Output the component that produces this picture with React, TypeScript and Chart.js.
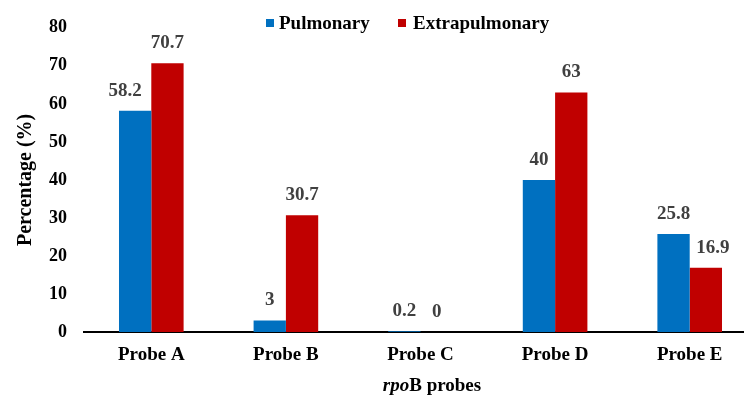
import React, { useEffect, useRef } from "react";
import { Chart, registerables } from "chart.js";

Chart.register(...registerables);

const categories = ["Probe A", "Probe B", "Probe C", "Probe D", "Probe E"];
const pulmonary = [58.2, 3, 0.2, 40, 25.8];
const extrapulmonary = [70.7, 30.7, 0, 63, 16.9];
const seriesNames = ["Pulmonary", "Extrapulmonary"];
const yTicksMax = 80;
const yTicksStep = 10;

const BLUE = "#0070C0";
const RED = "#C00000";
const SERIF = "'Liberation Serif', 'Times New Roman', serif";

// small horizontal nudges of data labels (dataset index -> per-point px)
const labelNudge = [
  [-10, 0, 0, 0, 0],
  [0, 0, 0, 0, 7],
];

const overlayPlugin = {
  id: "overlay",
  afterDatasetsDraw(chart: any) {
    const ctx = chart.ctx;
    ctx.save();
    // data labels
    ctx.font = `bold 19px ${SERIF}`;
    ctx.fillStyle = "#404040";
    ctx.textAlign = "center";
    ctx.textBaseline = "middle";
    chart.data.datasets.forEach((ds: any, di: number) => {
      const meta = chart.getDatasetMeta(di);
      meta.data.forEach((bar: any, i: number) => {
        ctx.fillText(String(ds.data[i]), bar.x + labelNudge[di][i], bar.y - 20);
      });
    });
    // legend
    const legendItems = [
      { label: seriesNames[0], color: BLUE, box: 266, text: 279 },
      { label: seriesNames[1], color: RED, box: 398, text: 413 },
    ];
    ctx.font = `bold 19px ${SERIF}`;
    ctx.textAlign = "left";
    legendItems.forEach((it) => {
      ctx.fillStyle = it.color;
      ctx.fillRect(it.box, 19, 8, 8);
      ctx.fillStyle = "#000";
      ctx.fillText(it.label, it.text, 24);
    });
    // x-axis title with italic part
    const part1 = "rpo";
    const part2 = "B probes";
    const f1 = `italic bold 19px ${SERIF}`;
    const f2 = `bold 19px ${SERIF}`;
    ctx.font = f1;
    const w1 = ctx.measureText(part1).width;
    ctx.font = f2;
    const w2 = ctx.measureText(part2).width;
    const cx = 432;
    const startX = cx - (w1 + w2) / 2;
    ctx.fillStyle = "#000";
    ctx.font = f1;
    ctx.fillText(part1, startX, 386);
    ctx.font = f2;
    ctx.fillText(part2, startX + w1, 386);
    ctx.restore();
  },
};

export default function App() {
  const ref = useRef<HTMLCanvasElement>(null);
  useEffect(() => {
    if (!ref.current) return;
    const chart = new Chart(ref.current, {
      type: "bar",
      data: {
        labels: categories,
        datasets: [
          { label: seriesNames[0], data: pulmonary, backgroundColor: BLUE },
          { label: seriesNames[1], data: extrapulmonary, backgroundColor: RED },
        ],
      },
      options: {
        responsive: false,
        animation: false,
        devicePixelRatio: 1,
        layout: { padding: { top: 22, right: 0, left: 0, bottom: 0 } },
        datasets: { bar: { categoryPercentage: 0.48, barPercentage: 1 } },
        plugins: {
          legend: { display: false },
          tooltip: { enabled: false },
        },
        scales: {
          x: {
            grid: { display: false, drawTicks: false },
            border: { display: true, color: "#000", width: 2 },
            ticks: {
              color: "#000",
              font: { family: SERIF, size: 19, weight: "bold" },
              padding: 12,
            },
            afterFit(scale: any) {
              scale.height = 64;
            },
          },
          y: {
            min: 0,
            max: yTicksMax,
            grid: { display: false, drawTicks: false },
            border: { display: false },
            ticks: {
              stepSize: yTicksStep,
              color: "#000",
              font: { family: SERIF, size: 18, weight: "bold" },
              padding: 17,
            },
            title: {
              display: true,
              text: "Percentage (%)",
              color: "#000",
              font: { family: SERIF, size: 20, weight: "bold", lineHeight: 1 },
              padding: { top: 16, bottom: 0 },
            },
            afterFit(scale: any) {
              scale.width = 84;
            },
          },
        },
      },
      plugins: [overlayPlugin],
    });
    return () => chart.destroy();
  }, []);
  return (
    <div
      style={{
        position: "fixed",
        left: 0,
        top: 0,
        width: 744,
        height: 396,
        overflow: "hidden",
        background: "#fff",
      }}
    >
      <canvas ref={ref} width={757} height={396} style={{ width: 757, height: 396, display: "block" }} />
    </div>
  );
}
